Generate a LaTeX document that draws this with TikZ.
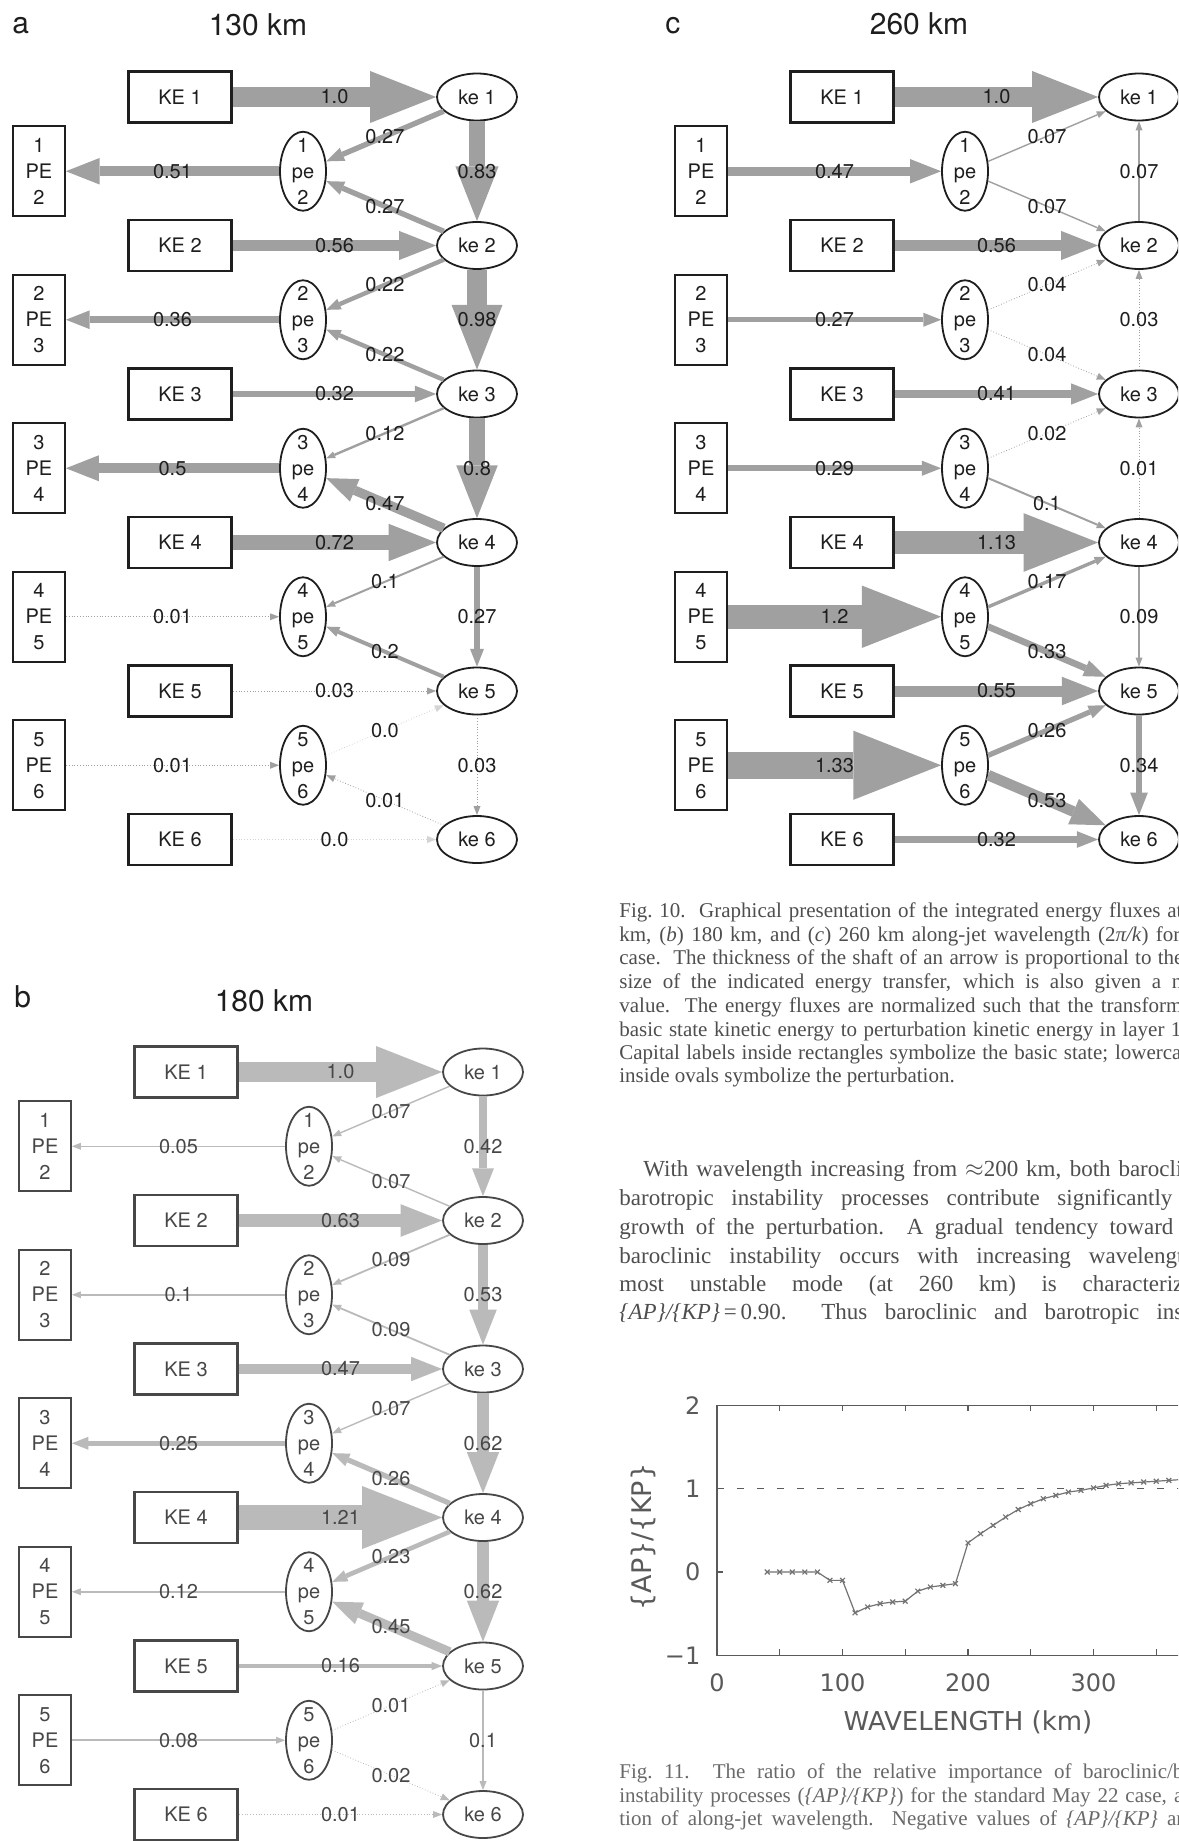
\documentclass[tikz,border=0pt]{standalone}
\usepackage{fontspec}
\setmainfont{Liberation Serif}
\setsansfont{TeX Gyre Heros}
\newfontfamily\plotfont{DejaVu Sans}
\usetikzlibrary{arrows.meta, shapes.geometric, positioning}
\definecolor{cink}{HTML}{1E1E1E}
\definecolor{cflux}{HTML}{A0A0A0}
\definecolor{cprint}{HTML}{4E4E4E}
\definecolor{cplot}{HTML}{5A5A5A}
\pgfdeclarelayer{labels}
\pgfsetlayers{main,labels}
\tikzset{
  every picture/.style={font=\sffamily\fontsize{10}{13}\selectfont},
  kebox/.style={draw=cink, line width=1.4pt, minimum width=51.5pt, minimum height=25.5pt, inner sep=0pt, text=cink},
  pebox/.style={draw=cink, line width=0.9pt, minimum width=26pt, minimum height=45pt, inner sep=0pt, align=center, text=cink},
  keoval/.style={ellipse, draw=cink, line width=0.9pt, minimum width=40pt, minimum height=23.5pt, inner sep=0pt, text=cink},
  peoval/.style={ellipse, draw=cink, line width=0.9pt, minimum width=23pt, minimum height=39.5pt, inner sep=0pt},
  ovaltext/.style={align=center, inner sep=0pt, text=cink},
  flux/.style={draw=cflux, line cap=butt},
  fluxlabel/.style={inner sep=0pt, text=cink},
  paneltitle/.style={font=\sffamily\fontsize{15}{18}\selectfont, text=cink, inner sep=0pt, anchor=base},
  captext/.style={font=\rmfamily\fontsize{10.5}{12}\selectfont, text=cprint, anchor=base west, inner sep=0pt},
  bodytext/.style={font=\rmfamily\fontsize{11.5}{14}\selectfont, text=cprint, anchor=base west, inner sep=0pt},
  plotaxis/.style={draw=cplot, line width=0.6pt},
  plotcurve/.style={draw=cplot!85, line width=0.6pt},
  plottext/.style={font=\plotfont\fontsize{12}{14}\selectfont, text=cplot, inner sep=0pt},
}
% fat arrow: shaft and head grow with the flux value
\newcommand{\flux}[3]{%
  \pgfmathsetmacro{\fshaft}{max(0.4,10*#3)}%
  \pgfmathsetmacro{\fheadl}{max(4.5,33*#3)}%
  \pgfmathsetmacro{\fheadw}{max(3.5,26*#3)}%
  \pgfmathtruncatemacro{\fthin}{#3<0.05}%
  \pgfmathtruncatemacro{\fnone}{#3<0.005}%
  \ifnum\fthin=1 \tikzset{fluxnow/.style={densely dotted}}\else\tikzset{fluxnow/.style={}}\fi
  \ifnum\fnone=1 \tikzset{fluxnow/.append style={draw=cflux!45}}\fi
  \draw[flux, fluxnow, line width=\fshaft pt, -{Triangle[length=\fheadl pt, width=\fheadw pt, line width=0pt]}]
    (#1) -- coordinate[midway] (fluxmid) (#2);
  \begin{pgfonlayer}{labels}\node[fluxlabel] at (fluxmid) {#3};\end{pgfonlayer}}
% one panel of boxes and ovals: prefix, x shift, y of first row
\newcommand{\energypanel}[3]{%
  \foreach \i in {1,...,6} {
    \node[kebox] (#1KE\i) at ({180+#2},{#3+148.5*(\i-1)}) {KE \i};
    \node[keoval] (#1ke\i) at ({477+#2},{#3+148.5*(\i-1)}) {ke \i};
  }
  \foreach \i [evaluate=\i as \nx using int(\i+1)] in {1,...,5} {
    \node[pebox] (#1PE\i) at ({39+#2},{#3+148.5*(\i-0.5)}) {\i\\PE\\\nx};
    \node[peoval, label={[ovaltext]center:{\i\\pe\\\nx}}] (#1pe\i) at ({303+#2},{#3+148.5*(\i-0.5)}) {};
  }}

\begin{document}
\begin{tikzpicture}[x=0.5pt, y=-0.5pt]
  \path[use as bounding box] (0,0) rectangle (1178,1841);
  \fill[white] (0,0) rectangle (1178,1841);
  \clip (0,0) rectangle (1178,1841);

  % panel a
  \node[paneltitle, anchor=base west] (alabel) at (12,34) {a};
  \node[paneltitle] (atitle) at (258,36) {130 km};
  \begin{scope}
    \energypanel{a}{0}{97}
    \foreach \src/\dst/\val in {KE1/ke1/1.0, KE2/ke2/0.56, KE3/ke3/0.32, KE4/ke4/0.72, KE5/ke5/0.03, KE6/ke6/0.0,
        pe1/PE1/0.51, pe2/PE2/0.36, pe3/PE3/0.5, PE4/pe4/0.01, PE5/pe5/0.01,
        ke1/ke2/0.83, ke2/ke3/0.98, ke3/ke4/0.8, ke4/ke5/0.27, ke5/ke6/0.03,
        ke1/pe1/0.27, ke2/pe1/0.27, ke2/pe2/0.22, ke3/pe2/0.22, ke3/pe3/0.12,
        ke4/pe3/0.47, ke4/pe4/0.1, ke5/pe4/0.2, pe5/ke5/0.0, ke6/pe5/0.01}
      \flux{a\src}{a\dst}{\val};
  \end{scope}

  % panel b
  \node[paneltitle, anchor=base west] (blabel) at (14,1007) {b};
  \node[paneltitle] (btitle) at (264,1011) {180 km};
  \begin{scope}
    \colorlet{cink}{black!72}\colorlet{cflux}{black!27}
    \energypanel{b}{6}{1072}
    \foreach \src/\dst/\val in {KE1/ke1/1.0, KE2/ke2/0.63, KE3/ke3/0.47, KE4/ke4/1.21, KE5/ke5/0.16, KE6/ke6/0.01,
        pe1/PE1/0.05, pe2/PE2/0.1, pe3/PE3/0.25, pe4/PE4/0.12, PE5/pe5/0.08,
        ke1/ke2/0.42, ke2/ke3/0.53, ke3/ke4/0.62, ke4/ke5/0.62, ke5/ke6/0.1,
        ke1/pe1/0.07, ke2/pe1/0.07, ke2/pe2/0.09, ke3/pe2/0.09, ke3/pe3/0.07,
        ke4/pe3/0.26, ke4/pe4/0.23, ke5/pe4/0.45, pe5/ke5/0.01, pe5/ke6/0.02}
      \flux{b\src}{b\dst}{\val};
  \end{scope}

  % panel c
  \node[paneltitle, anchor=base west] (clabel) at (665,34) {c};
  \node[paneltitle] (ctitle) at (919,35) {260 km};
  \begin{scope}
    \energypanel{c}{662}{97}
    \foreach \src/\dst/\val in {KE1/ke1/1.0, KE2/ke2/0.56, KE3/ke3/0.41, KE4/ke4/1.13, KE5/ke5/0.55, KE6/ke6/0.32,
        PE1/pe1/0.47, PE2/pe2/0.27, PE3/pe3/0.29, PE4/pe4/1.2, PE5/pe5/1.33,
        ke2/ke1/0.07, ke3/ke2/0.03, ke4/ke3/0.01, ke4/ke5/0.09, ke5/ke6/0.34,
        pe1/ke1/0.07, pe1/ke2/0.07, pe2/ke2/0.04, pe2/ke3/0.04, pe3/ke3/0.02,
        pe3/ke4/0.1, pe4/ke4/0.17, pe4/ke5/0.33, pe5/ke5/0.26, pe5/ke6/0.53}
      \flux{c\src}{c\dst}{\val};
  \end{scope}

  % caption of fig. 10
  \node[captext] (cap1) at (619,917) {\makebox[281.5pt][s]{Fig.\ 10.\ \ Graphical presentation of the integrated energy fluxes at}};
  \node[captext] (cap2) at (619,941) {\makebox[280.5pt][s]{km, (\textit{b}) 180 km, and (\textit{c}) 260 km along-jet wavelength (2\textit{π/k}) for}};
  \node[captext] (cap3) at (619,964) {\makebox[282pt][s]{case.\ \ The thickness of the shaft of an arrow is proportional to the}};
  \node[captext] (cap4) at (619,988) {\makebox[281.5pt][s]{size of the indicated energy transfer, which is also given a n}};
  \node[captext] (cap5) at (619,1012) {\makebox[281.5pt][s]{value.\ \ The energy fluxes are normalized such that the transform}};
  \node[captext] (cap6) at (619,1036) {\makebox[281pt][s]{basic state kinetic energy to perturbation kinetic energy in layer 1}};
  \node[captext] (cap7) at (619,1059) {\makebox[281pt][s]{Capital labels inside rectangles symbolize the basic state; lowerca}};
  \node[captext] (cap8) at (619,1082) {inside ovals symbolize the perturbation.};

  % running text
  \node[bodytext] (par1) at (643,1176) {\makebox[269.5pt][s]{With wavelength increasing from $\approx$200 km, both barocli}};
  \node[bodytext] (par2) at (619,1205) {\makebox[276.5pt][s]{barotropic instability processes contribute significantly}};
  \node[bodytext] (par3) at (619,1234) {\makebox[277pt][s]{growth of the perturbation.\ \ A gradual tendency toward}};
  \node[bodytext] (par4) at (619,1263) {\makebox[282pt][s]{baroclinic instability occurs with increasing wavelengt}};
  \node[bodytext] (par5) at (619,1291) {\makebox[282pt][s]{most unstable mode (at 260 km) is characteriz}};
  \node[bodytext] (par6) at (619,1319) {\makebox[282pt][s]{\textit{\{AP\}/\{KP\}}\,=\,0.90.\ \ Thus baroclinic and barotropic ins}};

  % fig. 11
  \begin{scope}[shift={(717,1572)}, x=0.6275pt, y=41.65pt]
    \draw[plotaxis] (420,2) -- (0,2) -- (0,-1) -- (420,-1);
    \foreach \k in {50,100,...,400} {
      \draw[plotaxis] (\k,-1) -- (\k,-0.93);
      \draw[plotaxis] (\k,2) -- (\k,1.93);
    }
    \foreach \v in {0,1} \draw[plotaxis] (0,\v) -- (5,\v);
    \draw[plotaxis, dash pattern=on 3.5pt off 6.5pt] (0,1) -- (420,1);
    \draw[plotcurve] plot[mark=x, mark size=1.7pt, mark options={solid}] coordinates {
      (40,0) (50,0) (60,0) (70,0) (80,0) (90,-0.1) (100,-0.1)
      (110,-0.49) (120,-0.42) (130,-0.38) (140,-0.36) (150,-0.35)
      (160,-0.23) (170,-0.18) (180,-0.16) (190,-0.14)
      (200,0.35) (210,0.46) (220,0.56) (230,0.66) (240,0.75) (250,0.82)
      (260,0.88) (270,0.92) (280,0.96) (290,0.98) (300,1.01) (310,1.04)
      (320,1.06) (330,1.07) (340,1.08) (350,1.09) (360,1.10) (370,1.11) (380,1.12)};
    \foreach \v/\t in {2/2, 1/1, 0/0, -1/−1}
      \node[plottext, anchor=east] (ytick\t) at (-13,\v) {\t};
    \foreach \k in {0,100,200,300}
      \node[plottext] (xtick\k) at (\k,-1.333) {\k};
    \node[plottext, font=\plotfont\fontsize{13}{15}\selectfont] (xname) at (200,-1.80) {WAVELENGTH (km)};
    \node[plottext, font=\plotfont\fontsize{13.5}{15}\selectfont, rotate=90] (yname) at (-59,0.42) {\{AP\}/\{KP\}};
  \end{scope}

  % caption of fig. 11
  \node[captext, text=cprint!85] (cap9) at (619,1778) {\makebox[282pt][s]{Fig.\ 11.\ \ The ratio of the relative importance of baroclinic/b}};
  \node[captext, text=cprint!85] (cap10) at (619,1802) {\makebox[282pt][s]{instability processes (\textit{\{AP\}/\{KP\}}) for the standard May 22 case, a}};
  \node[captext, text=cprint!85] (cap11) at (619,1825) {\makebox[282pt][s]{tion of along-jet wavelength.\ \ Negative values of \textit{\{AP\}/\{KP\}} ar}};
\end{tikzpicture}
\end{document}
